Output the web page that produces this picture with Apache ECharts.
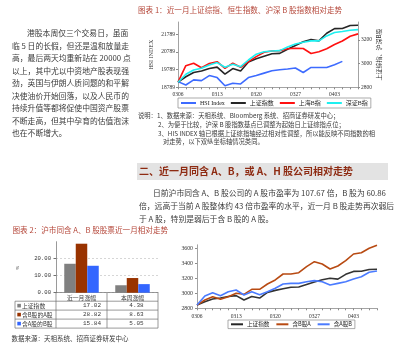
<!DOCTYPE html>
<html>
<head>
<meta charset="utf-8">
<script src="https://cdn.jsdelivr.net/npm/echarts@6/dist/echarts.min.js"></script>
<style>
html,body{margin:0;padding:0;background:#fff;}
#page{width:400px;height:348px;}
</style>
</head>
<body>
<div id="page"></div>
<script>
// Trading days shared by the two line charts
const tradeDays = ['0306','0307','0308','0309','0312','0313','0314','0315','0316','0319','0320','0321','0322','0323','0326','0327','0328','0329','0330','0402','0403','0404','0405','0406'];

// Chart 1: index levels (B-share indices rebased to the composite's first day)
const shComposite = [2843,2889,2925,2937,2958,2970,2911,2958,2937,3013,3040,3062,3082,3086,3120,3152,3183,3203,3191,3255,3294,3295,3320,3322];
const hsiIndex = [19109,18920,19206,19166,19451,19337,18880,19017,18977,19337,19451,19588,19720,19777,19817,19874,19623,19908,19908,19908,20062,20251,null,null];
const shBIndex = [2843,2982,3003,2965,3000,3016,2960,3003,2969,3016,3058,3095,3106,3109,3125,3129,3127,3085,3100,3125,3160,3190,3230,3250];
const szBIndex = [2843,2910,2946,2960,2988,3008,2969,2994,2974,3030,3079,3100,3106,3109,3140,3165,3180,3191,3191,3233,3261,3270,3281,3286];
const hsiTicks = [18789,19789,20789,21789];

// Chart 3: A/B dual-listed groups, rebased to the composite
const aWithB = [2843,2911,2955,2920,2955,3001,2987,3054,3054,3125,3179,3259,3259,3276,3357,3424,3393,3326,3366,3437,3527,3544,3603,3645];
const bWithA = [2843,2965,3009,2969,3022,3045,2978,3022,2982,3022,3068,3125,3134,3134,3156,3170,3156,3112,3134,3156,3192,3223,3282,3299];

// Chart 2: gains (%)
const gainCats = ['近一月涨幅','本周涨幅'];
const gainRows = ['上证指数','含B股的A股','含A股的B股'];
const gainSh = [17.02, 4.38];
const gainA = [28.82, 8.63];
const gainB = [15.84, 5.05];

const leftPara = [
  '港股本周仅三个交易日，虽面',
  '临 5 日的长假，但还是温和放量走',
  '高，最后两天均重新站在 20000 点',
  '以上，其中尤以中资地产股表现强',
  '劲，英国与伊朗人质问题的和平解',
  '决使油价开始回落，以及人民币的',
  '持续升值等都将促使中国资产股票',
  '不断走高，但其中孕育的估值泡沫',
  '也在不断增大。'
];
const notes = [
  '说明：1、数据来源：天相系统、Bloomberg 系统、招商证券研发中心；',
  '2、为便于比较，沪深 B 股指数基点已调整为起始日上证综指点位；',
  '3、HIS INDEX 轴已根据上证综指轴经过相对性调整，所以能反映不同指数的相',
  '对走势，以下双纵坐标轴情况类同。'
];
const bodyPara = [
  '日前沪市同含 A、B 股公司的 A 股市盈率为 107.67 倍，B 股为 60.86',
  '倍，远高于当前 A 股整体约 43 倍市盈率的水平，近一月 B 股走势再次弱后',
  '于 A 股，特别是弱后于含 B 股的 A 股。'
];

const CJK = '"Noto Sans CJK SC"';
const SERIF = '"Liberation Serif"';
const TEXT = '#3a3a3a';
const TITLE = '#b5473a';
const AXIS = '#8c8c8c';

const C_BLACK = '#262626', C_RED = '#ff1010', C_CYAN = '#1ef0f0', C_BLUE = '#3d6bff';
const C_BROWN = '#b84a12', C_BLUE2 = '#4a7bff';
const BAR_GRAY = '#808080', BAR_RED = '#993300', BAR_BLUE = '#3366ff';

const plain = v => String(v);

function txt(x, y, s, font, fill, align) {
  return {
    type: 'text', x: x, y: y, silent: true,
    style: { text: s, font: font, fill: fill,
      textAlign: align || 'left', align: align || 'left',
      textVerticalAlign: 'middle', verticalAlign: 'middle' }
  };
}
function hline(x1, x2, y, color, w) {
  return { type: 'line', silent: true, shape: { x1: x1, y1: y, x2: x2, y2: y }, style: { stroke: color, lineWidth: w || 0.7 } };
}
function vline(x, y1, y2, color, w) {
  return { type: 'line', silent: true, shape: { x1: x, y1: y1, x2: x, y2: y2 }, style: { stroke: color, lineWidth: w || 0.7 } };
}

const g = [];
// left column paragraph
leftPara.forEach((s, i) => g.push(txt(i === 0 ? 27 : 12, 33.3 + i * 12.5, s, '7.8px ' + CJK, TEXT)));
// chart titles
g.push(txt(138, 10, '图表 1：近一月上证综指、恒生指数、沪深 B 股指数相对走势', '7.6px ' + CJK, TITLE));
g.push(txt(12.5, 230.5, '图表 2：沪市同含 A、B 股股票近一月相对走势', '7.6px ' + CJK, TITLE));
// notes under chart 1
const noteX = [138, 158, 158, 163];
notes.forEach((s, i) => g.push(txt(noteX[i], 116 + i * 8.6, s, '6.3px ' + CJK, TEXT)));
// section header
g.push({ type: 'rect', silent: true, shape: { x: 137, y: 163, width: 251, height: 17 }, style: { fill: '#e3e3e3' } });
g.push(txt(139, 171.7, '二、近一月同含 A、B，或 A、H 股公司相对走势', 'bold 10px ' + CJK, '#8e2b12'));
// body paragraph
bodyPara.forEach((s, i) => g.push(txt(i === 0 ? 153 : 139, 193.3 + i * 13, s, '7.8px ' + CJK, TEXT)));
// source line for chart 2
g.push(txt(11.5, 338.5, '数据来源：天相系统、招商证券研发中心', '6.5px ' + CJK, TEXT));
// % unit of chart 2
g.push({ type: 'text', x: 18, y: 268, rotation: Math.PI / 2, silent: true,
  style: { text: '%', font: '5px ' + SERIF, fill: TEXT, textAlign: 'center', align: 'center', textVerticalAlign: 'middle', verticalAlign: 'middle' } });

// data table under chart 2
const tL = 15, tA = 56, tM = 107, tR = 158;
const rowY = [292.7, 301.2, 310.1, 319.1, 328.1];
const TB = '#6f6f6f';
g.push(vline(tA, rowY[0], rowY[4], TB));
g.push(vline(tM, rowY[0], rowY[4], TB));
g.push(vline(tR, rowY[0], rowY[4], TB));
g.push(vline(tL, rowY[1], rowY[4], TB));
for (let r = 1; r <= 4; r++) g.push(hline(tL, tR, rowY[r], TB));
const rowColors = [BAR_GRAY, BAR_RED, BAR_BLUE];
const rowVals = [gainSh, gainA, gainB];
const numX = [92, 136.5];
gainRows.forEach((name, r) => {
  const cy = (rowY[r + 1] + rowY[r + 2]) / 2;
  g.push({ type: 'rect', silent: true, shape: { x: 17.3, y: cy - 1.8, width: 3.6, height: 3.6 }, style: { fill: rowColors[r] } });
  g.push(txt(22, cy, name, '5.8px ' + CJK, TEXT));
  rowVals[r].forEach((v, c) => g.push(txt(numX[c], cy, v.toFixed(2), '6px "Liberation Mono"', TEXT, 'center')));
});

const smallLabel = (size) => ({ fontSize: size, fontFamily: SERIF, color: '#333', formatter: plain });

const option = {
  backgroundColor: '#fff',
  animation: false,
  grid: [
    { left: 178, top: 22, width: 180, height: 65.3 },
    { left: 56, top: 241.7, width: 102, height: 51 },
    { left: 197, top: 244.8, width: 180, height: 63.5 }
  ],
  xAxis: [
    { gridIndex: 0, type: 'category', data: tradeDays, boundaryGap: false,
      axisLine: { lineStyle: { color: AXIS, width: 0.8 } },
      axisTick: { interval: 0, length: 2, lineStyle: { color: AXIS } },
      axisLabel: Object.assign({ interval: 4, margin: 4 }, smallLabel(5.5)) },
    { gridIndex: 1, type: 'category', data: gainCats,
      axisLine: { lineStyle: { color: TB, width: 0.7 } },
      axisTick: { show: false },
      axisLabel: { margin: 2.5, fontSize: 5.8, fontFamily: CJK, color: TEXT } },
    { gridIndex: 2, type: 'category', data: tradeDays, boundaryGap: false,
      axisLine: { lineStyle: { color: AXIS, width: 0.8 } },
      axisTick: { interval: 0, length: 2, lineStyle: { color: AXIS } },
      axisLabel: Object.assign({ interval: 4, margin: 5 }, smallLabel(5.5)) }
  ],
  yAxis: [
    { gridIndex: 0, type: 'value', position: 'left', min: hsiTicks[0], max: 22470, interval: hsiTicks[1] - hsiTicks[0],
      name: 'HSI INDEX', nameLocation: 'middle', nameRotate: 90, nameGap: 24,
      nameTextStyle: { fontSize: 6, fontFamily: SERIF, color: '#333' },
      axisLine: { show: true, lineStyle: { color: AXIS, width: 0.8 } },
      axisTick: { show: true, length: 2, lineStyle: { color: AXIS } },
      splitLine: { show: false },
      axisLabel: Object.assign({ margin: 3, showMaxLabel: false }, smallLabel(5.5)) },
    { gridIndex: 0, type: 'value', position: 'right', min: 2800, max: 3350, interval: 200,
      name: '上证综指、沪深B股', nameLocation: 'middle', nameRotate: 90, nameGap: 14,
      nameTextStyle: { fontSize: 6, fontFamily: CJK, color: '#333' },
      axisLine: { show: true, lineStyle: { color: AXIS, width: 0.8 } },
      axisTick: { show: true, length: 2, lineStyle: { color: AXIS } },
      splitLine: { show: false },
      axisLabel: Object.assign({ margin: 3, showMaxLabel: false }, smallLabel(5.5)) },
    { gridIndex: 1, type: 'value', min: 0, max: 30, interval: 10,
      axisLine: { show: true, lineStyle: { color: TB, width: 0.7 } },
      axisTick: { show: true, length: 2.5, lineStyle: { color: TB } },
      splitLine: { show: true, lineStyle: { type: [2, 2], width: 0.6, color: ['#bbb', '#bbb', '#bbb', 'rgba(0,0,0,0)'] } },
      axisLabel: { margin: 5, showMaxLabel: false, fontSize: 5.6, fontFamily: '"Liberation Mono"', color: '#333', formatter: v => v.toFixed(2) } },
    { gridIndex: 2, type: 'value', min: 2800, max: 3650, interval: 200,
      axisLine: { show: true, lineStyle: { color: AXIS, width: 0.8 } },
      axisTick: { show: true, length: 2, lineStyle: { color: AXIS } },
      splitLine: { show: false },
      axisLabel: Object.assign({ margin: 4, showMaxLabel: false }, smallLabel(5.8)) }
  ],
  legend: [
    { data: ['HSI Index', '上证指数', '上海B指', '深证B指'], left: 178, top: 98, orient: 'horizontal',
      icon: 'rect', itemWidth: 15, itemHeight: 2, itemGap: 6, padding: [2, 3],
      borderColor: '#888', borderWidth: 0.7,
      textStyle: { fontSize: 6, fontFamily: SERIF + ',' + CJK, color: '#222', padding: [0, 0, 0, -1] } },
    { data: ['上证指数', '含B股A', '含A股B'], left: 228, top: 320, orient: 'horizontal',
      icon: 'rect', itemWidth: 12, itemHeight: 2, itemGap: 7, padding: [1.5, 3],
      borderColor: '#888', borderWidth: 0.7,
      textStyle: { fontSize: 5.6, fontFamily: CJK, color: '#222', padding: [0, 0, 0, -1] } }
  ],
  series: [
    { name: 'HSI Index', type: 'line', xAxisIndex: 0, yAxisIndex: 0, data: hsiIndex, showSymbol: false, color: C_BLUE, lineStyle: { width: 1.6 } },
    { name: '上证指数', type: 'line', xAxisIndex: 0, yAxisIndex: 1, data: shComposite, showSymbol: false, color: C_BLACK, lineStyle: { width: 1.6 } },
    { name: '上海B指', type: 'line', xAxisIndex: 0, yAxisIndex: 1, data: shBIndex, showSymbol: false, color: C_RED, lineStyle: { width: 1.6 } },
    { name: '深证B指', type: 'line', xAxisIndex: 0, yAxisIndex: 1, data: szBIndex, showSymbol: false, color: C_CYAN, lineStyle: { width: 1.6 } },

    { name: '上证指数涨幅', type: 'bar', xAxisIndex: 1, yAxisIndex: 2, data: gainSh, color: BAR_GRAY, barWidth: 11.5, barGap: '0%' },
    { name: '含B股的A股', type: 'bar', xAxisIndex: 1, yAxisIndex: 2, data: gainA, color: BAR_RED, barWidth: 11.5, barGap: '0%' },
    { name: '含A股的B股', type: 'bar', xAxisIndex: 1, yAxisIndex: 2, data: gainB, color: BAR_BLUE, barWidth: 11.5, barGap: '0%' },

    { name: '上证指数', type: 'line', xAxisIndex: 2, yAxisIndex: 3, data: shComposite, showSymbol: false, color: '#333333', lineStyle: { width: 1.6 } },
    { name: '含B股A', type: 'line', xAxisIndex: 2, yAxisIndex: 3, data: aWithB, showSymbol: false, color: C_BROWN, lineStyle: { width: 1.6 } },
    { name: '含A股B', type: 'line', xAxisIndex: 2, yAxisIndex: 3, data: bWithA, showSymbol: false, color: C_BLUE2, lineStyle: { width: 1.6 } }
  ],
  graphic: g
};

const chart = echarts.init(document.getElementById('page'), null, { renderer: 'canvas' });
chart.setOption(option);
</script>
</body>
</html>
